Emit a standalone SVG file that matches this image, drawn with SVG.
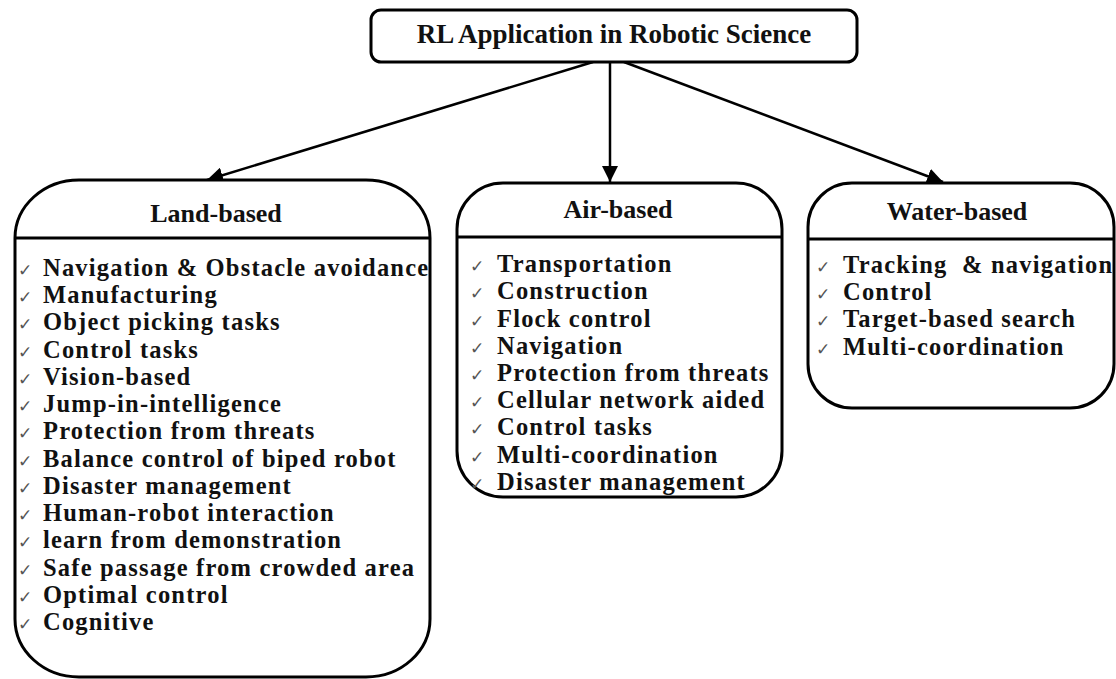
<svg xmlns="http://www.w3.org/2000/svg" width="1116" height="679" viewBox="0 0 1116 679">
<style>
.box{fill:#fff;stroke:#000;stroke-width:3}
.div{stroke:#000;stroke-width:3}
.title{font-family:"Liberation Serif","Times New Roman",serif;font-weight:bold;font-size:27px;fill:#111;text-anchor:middle}
.head{font-family:"Liberation Serif","Times New Roman",serif;font-weight:bold;font-size:26px;fill:#111;text-anchor:middle}
.item{font-family:"Liberation Serif","Times New Roman",serif;font-weight:bold;font-size:24.5px;letter-spacing:1.2px;fill:#111}
.chk{font-family:"DejaVu Sans",sans-serif;font-size:17px;fill:#555}
.conn{stroke:#000;stroke-width:2.5;fill:none}
</style>
<defs>
<marker id="ah" markerUnits="userSpaceOnUse" markerWidth="18" markerHeight="16" refX="16" refY="8" orient="auto">
<path d="M0,0 L16,8 L0,16 Z" fill="#000"/>
</marker>
</defs>
<rect width="1116" height="679" fill="#fff"/>
<g id="connectors">
<line class="conn" x1="593" y1="62" x2="207" y2="180" marker-end="url(#ah)"/>
<line class="conn" x1="610" y1="62" x2="610" y2="182" marker-end="url(#ah)"/>
<line class="conn" x1="624" y1="62" x2="943" y2="182" marker-end="url(#ah)"/>
</g>
<g id="root">
<rect class="box" x="371" y="10" width="486" height="52" rx="10" ry="10"/>
<text class="title" x="614" y="43">RL Application in Robotic Science</text>
</g>
<g id="land">
<rect class="box" x="15" y="180" width="415" height="497" rx="64" ry="58"/>
<line class="div" x1="15" y1="238" x2="430" y2="238"/>
<text class="head" x="216" y="222">Land-based</text>
<g class="chk">
<text x="18" y="276">✓</text><text x="18" y="303">✓</text><text x="18" y="330">✓</text><text x="18" y="358">✓</text><text x="18" y="385">✓</text><text x="18" y="412">✓</text><text x="18" y="439">✓</text><text x="18" y="467">✓</text><text x="18" y="494">✓</text><text x="18" y="521">✓</text><text x="18" y="548">✓</text><text x="18" y="576">✓</text><text x="18" y="603">✓</text><text x="18" y="630">✓</text>
</g>
<text class="item" x="43" y="276">Navigation &amp; Obstacle avoidance</text>
<text class="item" x="43" y="303">Manufacturing</text>
<text class="item" x="43" y="330">Object picking tasks</text>
<text class="item" x="43" y="358">Control tasks</text>
<text class="item" x="43" y="385">Vision-based</text>
<text class="item" x="43" y="412">Jump-in-intelligence</text>
<text class="item" x="43" y="439">Protection from threats</text>
<text class="item" x="43" y="467">Balance control of biped robot</text>
<text class="item" x="43" y="494">Disaster management</text>
<text class="item" x="43" y="521">Human-robot interaction</text>
<text class="item" x="43" y="548">learn from demonstration</text>
<text class="item" x="43" y="576">Safe passage from crowded area</text>
<text class="item" x="43" y="603">Optimal control</text>
<text class="item" x="43" y="630">Cognitive</text>
</g>
<g id="air">
<rect class="box" x="457" y="183" width="325" height="314" rx="46" ry="46"/>
<line class="div" x1="457" y1="237" x2="782" y2="237"/>
<text class="head" x="618" y="218">Air-based</text>
<g class="chk">
<text x="470" y="272">✓</text><text x="470" y="299">✓</text><text x="470" y="327">✓</text><text x="470" y="354">✓</text><text x="470" y="381">✓</text><text x="470" y="408">✓</text><text x="470" y="435">✓</text><text x="470" y="463">✓</text><text x="470" y="490">✓</text>
</g>
<text class="item" x="497" y="272">Transportation</text>
<text class="item" x="497" y="299">Construction</text>
<text class="item" x="497" y="327">Flock control</text>
<text class="item" x="497" y="354">Navigation</text>
<text class="item" x="497" y="381">Protection from threats</text>
<text class="item" x="497" y="408">Cellular network aided</text>
<text class="item" x="497" y="435">Control tasks</text>
<text class="item" x="497" y="463">Multi-coordination</text>
<text class="item" x="497" y="490">Disaster management</text>
</g>
<g id="water">
<rect class="box" x="808" y="183" width="306" height="225" rx="44" ry="44"/>
<line class="div" x1="808" y1="239" x2="1114" y2="239"/>
<text class="head" x="957" y="220">Water-based</text>
<g class="chk">
<text x="816" y="273">✓</text><text x="816" y="300">✓</text><text x="816" y="327">✓</text><text x="816" y="355">✓</text>
</g>
<text class="item" x="843" y="273" xml:space="preserve">Tracking  &amp; navigation</text>
<text class="item" x="843" y="300">Control</text>
<text class="item" x="843" y="327">Target-based search</text>
<text class="item" x="843" y="355">Multi-coordination</text>
</g>
</svg>
